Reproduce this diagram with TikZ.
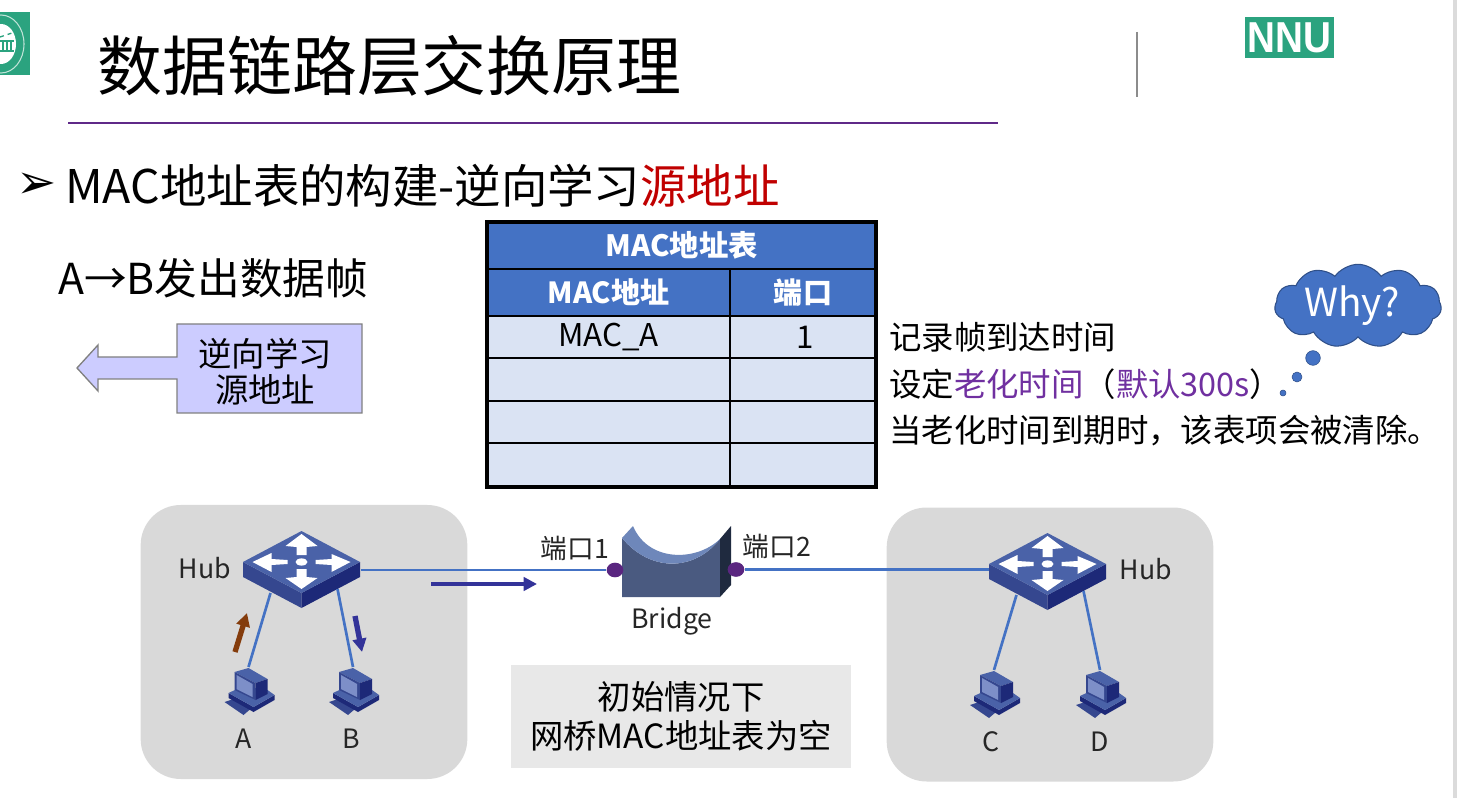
\documentclass[tikz,border=0pt]{standalone}
\usepackage{fontspec}
\setmainfont{Noto Sans CJK SC}
\newfontfamily\symfont{DejaVu Sans}
\newfontfamily\logofont{Liberation Sans}
\usetikzlibrary{arrows.meta}
\usetikzlibrary{shapes.geometric}
\usetikzlibrary{shapes.symbols}
\definecolor{tblue}{HTML}{4472C4}
\definecolor{tcell}{HTML}{DAE3F3}
\definecolor{linkblue}{HTML}{4472C4}
\definecolor{flowblue}{HTML}{333399}
\definecolor{flowbrown}{HTML}{843C0C}
\definecolor{nnugreen}{HTML}{2BA37F}
\definecolor{learnfill}{HTML}{CCCCFF}
\definecolor{agepurple}{HTML}{7030A0}
\definecolor{iconlight}{HTML}{4A62A8}
\definecolor{iconmid}{HTML}{35478F}
\definecolor{icondark}{HTML}{1D2978}
\definecolor{iconscreen}{HTML}{7D8FC8}
\newcommand{\fsz}[1]{\fontsize{#1}{#1}\selectfont}
\tikzset{
	cellbox/.style={draw=black,line width=1.5pt,fill=tcell,inner sep=0pt,text=black,font=\fsz{23.5pt}},
	headbox/.style={cellbox,fill=tblue,text=white,font=\fsz{21.8pt}\bfseries},
	panelbox/.style={fill=black!15,rounded corners=30pt,inner sep=0pt,minimum width=245pt,minimum height=205.5pt},
	link/.style={draw=linkblue,line width=2pt},
	portdot/.style={ellipse,fill=agepurple!80!black,inner sep=0pt,minimum width=12.5pt,minimum height=11pt},
	netlabel/.style={font=\fsz{20pt},text=black!85},
	flow/.style={line width=3pt,-{Triangle[length=10pt,width=10pt]}},
	flowshort/.style={line width=4pt,-{Triangle[length=10pt,width=10pt]}},
	hubicon/.pic={
		\fill[iconmid] (-58.5,0) -- (0,31) -- (0,46) -- (-58.5,15) -- cycle;
		\fill[icondark] (58.5,0) -- (0,31) -- (0,46) -- (58.5,15) -- cycle;
		\fill[iconlight] (-58.5,0) -- (0,-31) -- (58.5,0) -- (0,31) -- cycle;
		\fill[white] (0,-28) -- (16,-16) -- (5,-15) -- (5,-7) -- (-5,-7) -- (-5,-15) -- (-16,-16) -- cycle;
		\fill[white] (0,27) -- (16,16) -- (5,15) -- (5,7) -- (-5,7) -- (-5,15) -- (-16,16) -- cycle;
		\fill[white] (49,0) -- (30,-8) -- (30,-3) -- (14,-2) -- (14,2) -- (30,3) -- (30,10) -- cycle;
		\fill[white] (-49,0) -- (-30,-9) -- (-30,-3) -- (-14,-2) -- (-14,2) -- (-30,3) -- (-30,10) -- cycle;
		\fill[white] (0,0) ellipse [x radius=6,y radius=3.6];
		\coordinate (-east) at (59,8);
		\coordinate (-west) at (-58.5,5.5);
		\coordinate (-legl) at (-31,31);
		\coordinate (-legr) at (36,27);
	},
	pcicon/.pic={
		\fill[iconmid] (-24,35) -- (-12,31) -- (2,42) -- (-5,48) -- cycle;
		\fill[icondark] (-20,26) -- (5,40) -- (26,28) -- (26,33) -- (5,45) -- (-20,31) -- cycle;
		\fill[iconlight] (-20,26) -- (-5,19) -- (19,23) -- (26,28) -- (5,40) -- cycle;
		\fill[iconlight] (-14,5) -- (0,1) -- (19,12) -- (7,16) -- cycle;
		\fill[iconmid] (-14,5) -- (7,16) -- (7,33) -- (-14,23) -- cycle;
		\fill[iconscreen] (-12,8) -- (4,17) -- (4,30) -- (-12,22) -- cycle;
		\fill[icondark] (7,16) -- (19,12) -- (19,27) -- (7,33) -- cycle;
		\coordinate (-top) at (0,0);
	},
}
\begin{document}
\begin{tikzpicture}[x=0.75pt,y=-0.75pt]
\useasboundingbox (0,0) rectangle (1457,798);
\fill[black!14] (1453,0) rectangle (1457,798);

% slide head
\fill[nnugreen] (0,12) rectangle (30,75);
\begin{scope}
\clip (0,12) rectangle (30,75);
\draw[white!70!nnugreen,line width=0.8pt] (1,44) ellipse [x radius=23,y radius=29];
\fill[white] (1,44) ellipse [x radius=15,y radius=20];
\fill[nnugreen] (-4,40) rectangle (14,52);
\foreach \xx in {0,4,8,12}{
	\fill[white] (\xx,42) rectangle (\xx+1.5,50);
}
\draw[nnugreen,line width=1pt,dashed] (0,37) -- (12,33);
\end{scope}
\node[inner sep=0pt,anchor=west] (title) at (97,66) {\fsz{48.7pt}数据链路层交换原理};
\draw[agepurple!85!black,line width=1.5pt] (68,123) -- (998,123);
\draw[black!45,line width=1.2pt] (1137,32) -- (1137,97);
\node[fill=nnugreen,text=white,minimum width=66.75pt,minimum height=30.75pt,inner sep=0pt,font=\logofont\bfseries\fsz{29pt}] (nnu) at (1289.5,37.5) {\raisebox{-2pt}{\scalebox{1}[1.12]{NNU}}};

\node[inner sep=0pt] (bullet) at (37,186) {\symfont\fsz{36pt}➢};
\node[inner sep=0pt,anchor=west] (heading) at (65,186) {\fsz{34.8pt}MAC地址表的构建-逆向学习\textcolor[HTML]{C00000}{源地址}};
\node[inner sep=0pt,anchor=west] (frame) at (58,278) {\fsz{32pt}A→B发出数据帧};

% learn arrow
\draw[fill=learnfill,draw=black!50,line width=1pt] (177,324) -- (362,324) -- (362,413) -- (177,413) -- (177,379) -- (98,379) -- (98,391) -- (77,368) -- (98,345) -- (98,357) -- (177,357) -- cycle;
\node[align=center,inner sep=0pt] (learn) at (265,372) {\fsz{25pt}逆向学习\\[3pt]\fsz{25pt}源地址};

% mac table
\node[headbox,font=\fsz{22pt}\bfseries,minimum width=291.75pt,minimum height=35.25pt] (tabletitle) at (681.5,245.5) {MAC地址表};
\node[headbox,minimum width=182.25pt,minimum height=35.25pt] (headmac) at (608.5,292.5) {MAC地址};
\node[headbox,minimum width=109.5pt,minimum height=35.25pt] (headport) at (803,292.5) {端口};
\foreach \name/\yy/\hh/\textmac/\textport in {a/337/42/MAC\_A/1,b/379.5/43/{}/{},c/422/42/{}/{},d/465/44/{}/{}}{
	\node[cellbox,minimum width=182.25pt,minimum height=\hh*0.75pt] (mac\name) at (608.5,\yy) {\textmac};
	\node[cellbox,minimum width=109.5pt,minimum height=\hh*0.75pt] (port\name) at (803,\yy) {\hspace*{3pt}\textport};
}
\draw[line width=2.4pt] (487,222) rectangle (876,487);

% notes
\node[inner sep=0pt,anchor=west] (note1) at (889,337) {\fsz{24.3pt}记录帧到达时间};
\node[inner sep=0pt,anchor=west] (note2) at (889,384) {\fsz{24.3pt}设定\textcolor{agepurple}{老化时间}（\textcolor{agepurple}{默认300s}）};
\node[inner sep=0pt,anchor=west] (note3) at (889,431) {\fsz{24.3pt}当老化时间到期时，该表项会被清除。};
\node[cloud,cloud puffs=11,cloud puff arc=110,aspect=2.4,fill=tblue,draw=tblue!70!black,line width=0.8pt,inner sep=0pt,minimum width=125pt,minimum height=57pt,text=white,font=\fsz{29pt}] (why) at (1358,306) {Why?\kern9pt};
\node[circle,fill=tblue,draw=tblue!70!black,inner sep=0pt,minimum size=11pt] (puff1) at (1313,358) {};
\node[circle,fill=tblue,draw=tblue!70!black,inner sep=0pt,minimum size=7.5pt] (puff2) at (1297,377) {};
\node[circle,fill=tblue,draw=tblue!70!black,inner sep=0pt,minimum size=4.5pt] (puff3) at (1283,393) {};

% networks
\node[panelbox] (panelL) at (304,642) {};
\node[panelbox] (panelR) at (1050,644.5) {};
\pic (hubL) at (301.5,562) {hubicon};
\pic (hubR) at (1047.5,564) {hubicon};
\pic (pcA) at (248.5,667) {pcicon};
\pic (pcB) at (353,667) {pcicon};
\pic (pcC) at (994,670) {pcicon};
\pic (pcD) at (1100,670) {pcicon};
\draw[link] (hubL-legl) -- (pcA-top);
\draw[link] (hubL-legr) -- (pcB-top);
\draw[link] (hubR-legl) -- (pcC-top);
\draw[link] (hubR-legr) -- (pcD-top);

% bridge
\fill[fill={rgb,255:red,74;green,90;blue,128}] (622,538) .. controls (650,572) and (694,572) .. (720,539) -- (720,597) -- (622,597) -- cycle;
\fill[fill={rgb,255:red,110;green,135;blue,186}] (622,538) -- (633,526) .. controls (648,562) and (696,562) .. (720,539) .. controls (694,572) and (650,572) .. (622,538) -- cycle;
\fill[fill={rgb,255:red,31;green,42;blue,63}] (720,539) -- (731,526) -- (731,585) -- (720,597) -- cycle;
\node[portdot] (port1) at (615,570) {};
\node[portdot] (port2) at (736,569.5) {};
\draw[link] (hubL-east) -- (port1);
\draw[link] (port2) -- (hubR-west);
\node[netlabel] (labport1) at (575,548) {端口1};
\node[netlabel] (labport2) at (777,546) {端口2};
\node[netlabel] (labbridge) at (672,621) {Bridge};
\node[netlabel] (labhubL) at (205,568) {Hub};
\node[netlabel] (labhubR) at (1146,569) {Hub};
\node[netlabel] (labA) at (244,739) {A};
\node[netlabel] (labB) at (351,739) {B};
\node[netlabel] (labC) at (991,742) {C};
\node[netlabel] (labD) at (1100,742) {D};

\coordinate (flowa) at (431,584);
\coordinate (flowb) at (537,584);
\coordinate (flowc) at (235,652);
\coordinate (flowd) at (247,613);
\coordinate (flowe) at (355,616);
\coordinate (flowf) at (362,652);
\draw[flow,draw=flowblue,fill=flowblue] (flowa) -- (flowb);
\draw[flowshort,draw=flowbrown,fill=flowbrown] (flowc) -- (flowd);
\draw[flowshort,draw=flowblue,fill=flowblue] (flowe) -- (flowf);

\node[fill=black!9,minimum width=255pt,minimum height=77pt,inner sep=0pt,align=center] (initbox) at (681,716.5) {\fsz{25pt}初始情况下\\[5pt]\fsz{25pt}网桥MAC地址表为空};
\end{tikzpicture}
\end{document}
